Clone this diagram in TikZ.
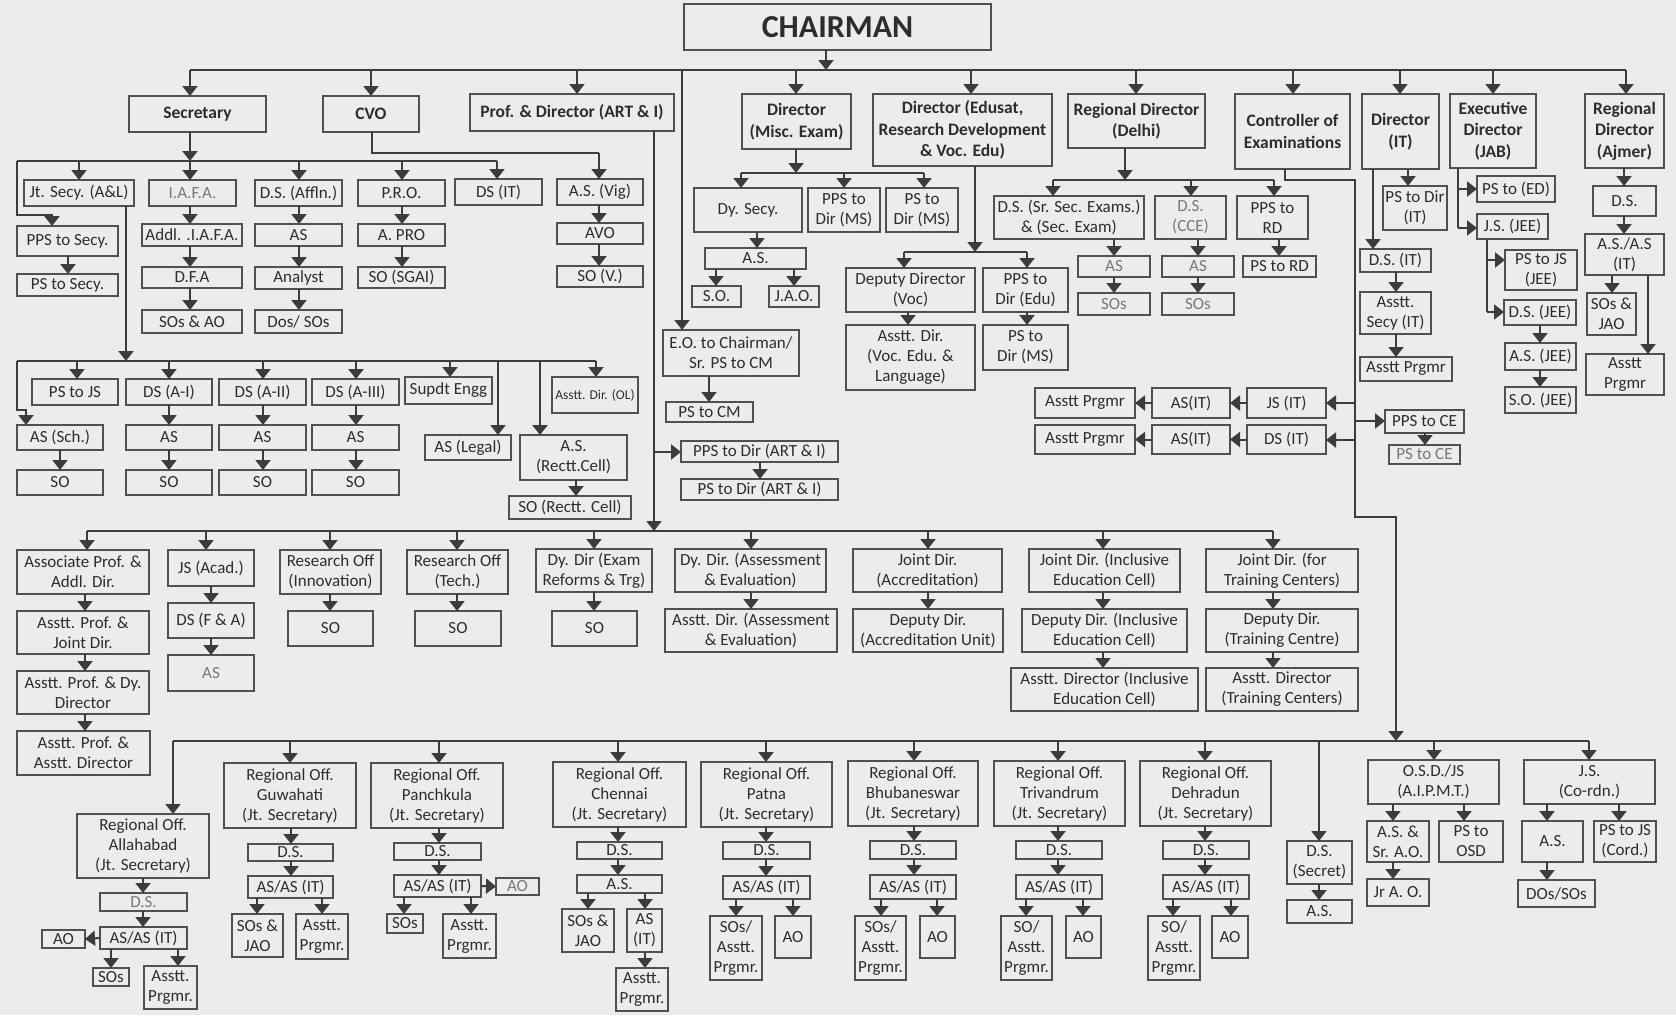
\documentclass[tikz,border=0pt]{standalone}
\usepackage{fontspec}
\setmainfont{Carlito}
\usetikzlibrary{arrows.meta}
\definecolor{bgc}{RGB}{236,236,236}
\definecolor{lnc}{RGB}{60,60,60}
\definecolor{bdc}{RGB}{80,80,80}
\definecolor{txc}{RGB}{45,45,45}
\definecolor{fnt}{RGB}{120,120,120}
\newcommand\fnorm{\fontsize{17}{20}\selectfont}
\newcommand\fbold{\fontsize{17.5}{21.5}\selectfont\bfseries}
\newcommand\fsmall{\fontsize{13.5}{16}\selectfont}
\newcommand\obox[7][]{\node[box,#1,minimum width={(#5)-(#3)},minimum height={(#6)-(#4)}] (#2) at ({((#3)+(#5))/2},{((#4)+(#6))/2}) {#7};}
\newcommand\dar[3]{\draw[arr] (#1,#2) -- (#3.north -| #1,0);}
\newcommand\vv[3]{\draw[arr] (#1.south -| #3,0) -- (#2.north -| #3,0);}
\tikzset{
  box/.style={draw=bdc,line width=1.3pt,text=txc,font=\fnorm,inner sep=1pt,align=center,outer sep=0pt},
  bb/.style={font=\fbold},
  faint/.style={text=fnt},
  ln/.style={draw=lnc,line width=2pt},
  arr/.style={ln,-{Triangle[width=15pt,length=10pt]}}
}
\begin{document}
\begin{tikzpicture}[x=1pt,y=-1pt]
\fill[bgc] (0,0) rectangle (1676,1015);
\useasboundingbox (0,0) rectangle (1676,1015);

% ---------- top level ----------
\obox[font=\fontsize{32}{36}\selectfont\bfseries]{chair}{684}{4}{991}{50}{CHAIRMAN}
\draw[arr] (chair.south -| 826,0) -- (826,70);
\draw[ln] (190,70) -- (1626,70);

\obox[bb]{sec}{129}{96}{266}{132}{Secretary}
\obox[bb]{cvo}{323}{96}{419}{132}{CVO}
\obox[bb]{prof}{470}{94}{674}{131}{Prof. \& Director (ART \& I)}
\obox[bb]{dmisc}{742}{94}{851}{149}{Director\\(Misc. Exam)}
\obox[bb]{dedu}{873}{94}{1052}{166}{Director (Edusat,\\Research Development\\\& Voc. Edu)}
\obox[bb]{rdd}{1068}{94}{1205}{148}{Regional Director\\(Delhi)}
\obox[bb]{coe}{1235}{94}{1350}{169}{Controller of\\Examinations}
\obox[bb]{dit}{1362}{94}{1439}{169}{Director\\(IT)}
\obox[bb]{ed}{1450}{94}{1536}{168}{Executive\\Director\\(JAB)}
\obox[bb]{raj}{1585}{94}{1664}{168}{Regional\\Director\\(Ajmer)}
\dar{190}{70}{sec} \dar{371}{70}{cvo} \dar{577}{70}{prof} \dar{796}{70}{dmisc}
\dar{971}{70}{dedu} \dar{1136}{70}{rdd} \dar{1293}{70}{coe} \dar{1400}{70}{dit}
\dar{1493}{70}{ed} \dar{1626}{70}{raj}

% ---------- Secretary / CVO ----------
\draw[arr] (sec.south -| 190,0) -- (190,161);
\draw[ln] (17,161) -- (497,161);
\draw[ln] (cvo.south -| 372,0) -- (372,153) -- (599,153);
\obox{jt}{24}{180}{134}{206}{Jt. Secy. (A\&L)}
\obox[faint]{iafa}{149}{180}{236}{206}{I.A.F.A.}
\obox{dsaff}{255}{180}{342}{206}{D.S. (Affln.)}
\obox{pro}{358}{180}{445}{206}{P.R.O.}
\obox{dsit}{455}{179}{542}{205}{DS (IT)}
\obox{asvig}{557}{179}{643}{205}{A.S. (Vig)}
\dar{79}{161}{jt} \dar{190}{161}{iafa} \dar{299}{161}{dsaff} \dar{402}{161}{pro}
\dar{497}{161}{dsit} \dar{599}{153}{asvig}
\obox{ppss}{17}{226}{118}{256}{PPS to Secy.}
\obox{pss}{17}{274}{118}{296}{PS to Secy.}
\draw[arr] (17,161) -- (17,215) -- (52,215) -- (ppss.north -| 52,0);
\vv{ppss}{pss}{68}
\obox{addl}{142}{224}{242}{246}{Addl. .I.A.F.A.}
\obox{as1}{255}{224}{342}{246}{AS}
\obox{apro}{358}{224}{445}{246}{A. PRO}
\obox{avo}{557}{223}{643}{244}{AVO}
\obox{dfa}{142}{267}{242}{288}{D.F.A}
\obox{analyst}{255}{267}{342}{289}{Analyst}
\obox{sosgai}{358}{267}{445}{288}{SO (SGAI)}
\obox{sov}{557}{266}{643}{287}{SO (V.)}
\obox{sosao}{142}{310}{242}{333}{SOs \& AO}
\obox{dos}{255}{310}{342}{333}{Dos/ SOs}
\vv{iafa}{addl}{190} \vv{addl}{dfa}{190} \vv{dfa}{sosao}{190}
\vv{dsaff}{as1}{299} \vv{as1}{analyst}{299} \vv{analyst}{dos}{299}
\vv{pro}{apro}{402} \vv{apro}{sosgai}{402}
\vv{asvig}{avo}{599} \vv{avo}{sov}{599}

% ---------- Jt. Secy (A&L) ----------
\draw[arr] (jt.south -| 126,0) -- (126,361);
\draw[ln] (17,361) -- (596,361);
\obox{pstojs}{32}{379}{118}{405}{PS to JS}
\obox{dsa1}{126}{379}{212}{405}{DS (A-I)}
\obox{dsa2}{219}{379}{306}{405}{DS (A-II)}
\obox{dsa3}{312}{379}{399}{405}{DS (A-III)}
\obox{supdt}{405}{377}{492}{404}{Supdt Engg}
\obox[font=\fsmall]{ol}{552}{377}{638}{413}{Asstt. Dir. (OL)}
\obox{assch}{17}{425}{103}{450}{AS (Sch.)}
\obox{asa1}{126}{425}{212}{450}{AS}
\obox{asa2}{219}{425}{306}{450}{AS}
\obox{asa3}{312}{425}{399}{450}{AS}
\obox{aslegal}{425}{435}{511}{460}{AS (Legal)}
\obox{rectt}{520}{435}{627}{480}{A.S.\\(Rectt.Cell)}
\obox{soa0}{17}{470}{103}{495}{SO}
\obox{soa1}{126}{470}{212}{495}{SO}
\obox{soa2}{219}{470}{306}{495}{SO}
\obox{soa3}{312}{470}{399}{495}{SO}
\obox{sorectt}{509}{496}{631}{519}{SO (Rectt. Cell)}
\dar{77}{361}{pstojs} \dar{169}{361}{dsa1} \dar{263}{361}{dsa2} \dar{356}{361}{dsa3}
\dar{450}{361}{supdt} \dar{596}{361}{ol} \dar{498}{361}{aslegal} \dar{540}{361}{rectt}
\draw[arr] (17,361) -- (17,410) -- (26,410) -- (assch.north -| 26,0);
\vv{assch}{soa0}{60} \vv{dsa1}{asa1}{169} \vv{asa1}{soa1}{169}
\vv{dsa2}{asa2}{263} \vv{asa2}{soa2}{263} \vv{dsa3}{asa3}{356} \vv{asa3}{soa3}{356}
\vv{rectt}{sorectt}{576}

% ---------- Prof & Director ----------
\draw[arr] (prof.south -| 654,0) -- (654,531);
\obox{ppsart}{681}{441}{838}{462}{PPS to Dir (ART \& I)}
\obox{psart}{681}{479}{838}{500}{PS to Dir (ART \& I)}
\draw[arr] (654,452) -- (ppsart.west |- 0,452);
\vv{ppsart}{psart}{760}
\obox{eo}{663}{330}{799}{376}{E.O. to Chairman/\\Sr. PS to CM}
\obox{pscm}{666}{402}{753}{422}{PS to CM}
\dar{682}{70}{eo}
\vv{eo}{pscm}{709}

\draw[ln] (87,531) -- (1273,531);
\obox{assoc}{17}{550}{149}{594}{Associate Prof. \&\\Addl. Dir.}
\obox{jsacad}{168}{550}{254}{586}{JS (Acad.)}
\obox{resinno}{280}{550}{381}{594}{Research Off\\(Innovation)}
\obox{restech}{407}{550}{508}{594}{Research Off\\(Tech.)}
\obox{dydir}{536}{549}{652}{592}{Dy. Dir (Exam\\Reforms \& Trg)}
\obox{dydirae}{675}{549}{826}{592}{Dy. Dir. (Assessment\\\& Evaluation)}
\obox{jdacc}{853}{549}{1002}{592}{Joint Dir.\\(Accreditation)}
\obox{jdinc}{1029}{549}{1180}{592}{Joint Dir. (Inclusive\\Education Cell)}
\obox{jdtr}{1206}{549}{1358}{592}{Joint Dir. (for\\Training Centers)}
\dar{87}{531}{assoc} \dar{206}{531}{jsacad} \dar{330}{531}{resinno} \dar{457}{531}{restech}
\dar{594}{531}{dydir} \dar{751}{531}{dydirae} \dar{928}{531}{jdacc} \dar{1103}{531}{jdinc}
\dar{1273}{531}{jdtr}
\obox{ap1}{17}{611}{149}{654}{Asstt. Prof. \&\\Joint Dir.}
\obox{dsfa}{168}{603}{254}{638}{DS (F \& A)}
\obox{soinno}{288}{611}{373}{646}{SO}
\obox{sotech}{415}{611}{501}{646}{SO}
\obox{sody}{552}{611}{637}{646}{SO}
\obox{adae}{665}{609}{837}{652}{Asstt. Dir. (Assessment\\\& Evaluation)}
\obox{ddacc}{853}{609}{1003}{652}{Deputy Dir.\\(Accreditation Unit)}
\obox{ddinc}{1022}{609}{1187}{652}{Deputy Dir. (Inclusive\\Education Cell)}
\obox{ddtr}{1206}{609}{1358}{652}{Deputy Dir.\\(Training Centre)}
\obox{ap2}{17}{671}{149}{714}{Asstt. Prof. \& Dy.\\Director}
\obox[faint]{asfa}{168}{655}{254}{691}{AS}
\obox{adinc}{1011}{668}{1198}{711}{Asstt. Director (Inclusive\\Education Cell)}
\obox{adtr}{1206}{668}{1358}{711}{Asstt. Director\\(Training Centers)}
\obox{ap3}{17}{731}{150}{775}{Asstt. Prof. \&\\Asstt. Director}
\vv{assoc}{ap1}{85} \vv{ap1}{ap2}{85} \vv{ap2}{ap3}{85}
\vv{jsacad}{dsfa}{211} \vv{dsfa}{asfa}{211}
\vv{resinno}{soinno}{330} \vv{restech}{sotech}{457} \vv{dydir}{sody}{594}
\vv{dydirae}{adae}{751} \vv{jdacc}{ddacc}{928}
\vv{jdinc}{ddinc}{1103} \vv{ddinc}{adinc}{1103}
\vv{jdtr}{ddtr}{1273} \vv{ddtr}{adtr}{1273}

% ---------- Director (Misc. Exam) ----------
\draw[arr] (dmisc.south -| 796,0) -- (796,173);
\draw[ln] (741,173) -- (924,173);
\obox{dysecy}{694}{188}{802}{232}{Dy. Secy.}
\obox{ppsms}{808}{188}{880}{232}{PPS to\\Dir (MS)}
\obox{psms}{886}{188}{958}{232}{PS to\\Dir (MS)}
\dar{741}{173}{dysecy} \dar{844}{173}{ppsms} \dar{924}{173}{psms}
\obox{asm}{705}{248}{806}{269}{A.S.}
\obox{som}{692}{286}{741}{307}{S.O.}
\obox{jao}{769}{286}{819}{307}{J.A.O.}
\vv{dysecy}{asm}{757} \vv{asm}{som}{716} \vv{asm}{jao}{794}

% ---------- Director (Edusat) ----------
\draw[arr] (dedu.south -| 975,0) -- (975,252);
\draw[ln] (904,252) -- (1027,252);
\obox{ddvoc}{846}{268}{975}{312}{Deputy Director\\(Voc)}
\obox{ppsedu}{983}{268}{1068}{312}{PPS to\\Dir (Edu)}
\dar{904}{252}{ddvoc} \dar{1027}{252}{ppsedu}
\obox{advoc}{846}{325}{975}{390}{Asstt. Dir.\\(Voc. Edu. \&\\Language)}
\obox{psms2}{983}{325}{1068}{370}{PS to\\Dir (MS)}
\vv{ddvoc}{advoc}{908} \vv{ppsedu}{psms2}{1027}

% ---------- Regional Director (Delhi) ----------
\draw[arr] (rdd.south -| 1125,0) -- (1125,180);
\draw[ln] (1053,180) -- (1274,180);
\obox{dssr}{994}{196}{1144}{239}{D.S. (Sr. Sec. Exams.)\\\& (Sec. Exam)}
\obox[faint]{dscce}{1155}{196}{1226}{239}{D.S.\\(CCE)}
\obox{ppsrd}{1237}{196}{1308}{239}{PPS to\\RD}
\dar{1053}{180}{dssr} \dar{1191}{180}{dscce} \dar{1274}{180}{ppsrd}
\obox[faint]{asd1}{1078}{256}{1150}{277}{AS}
\obox[faint]{asd2}{1162}{256}{1234}{277}{AS}
\obox{psrd}{1243}{256}{1316}{277}{PS to RD}
\obox[faint]{sosd1}{1078}{293}{1150}{315}{SOs}
\obox[faint]{sosd2}{1162}{293}{1234}{315}{SOs}
\vv{dssr}{asd1}{1114} \vv{asd1}{sosd1}{1114}
\vv{dscce}{asd2}{1198} \vv{asd2}{sosd2}{1198}
\vv{ppsrd}{psrd}{1279}

% ---------- Controller of Examinations ----------
\draw[arr] (coe.south -| 1285,0) -- (1285,180) -- (1355,180) -- (1355,517) -- (1396,517) -- (1396,741);
\obox{jsit}{1247}{388}{1326}{418}{JS (IT)}
\obox{asit1}{1152}{388}{1230}{418}{AS(IT)}
\obox{apr1}{1035}{388}{1135}{418}{Asstt Prgmr}
\obox{dsit2}{1247}{425}{1326}{454}{DS (IT)}
\obox{asit2}{1152}{425}{1230}{454}{AS(IT)}
\obox{apr2}{1035}{425}{1135}{454}{Asstt Prgmr}
\draw[arr] (1355,403) -- (jsit.east |- 0,403);
\draw[arr] (1355,440) -- (dsit2.east |- 0,440);
\draw[arr] (jsit.west) -- (asit1.east);
\draw[arr] (asit1.west) -- (apr1.east);
\draw[arr] (dsit2.west) -- (asit2.east);
\draw[arr] (asit2.west) -- (apr2.east);
\obox{ppsce}{1385}{410}{1464}{433}{PPS to CE}
\obox[faint]{psce}{1389}{445}{1460}{464}{PS to CE}
\draw[arr] (1355,421) -- (ppsce.west |- 0,421);
\vv{ppsce}{psce}{1425}

% ---------- Director (IT) ----------
\obox{psdit}{1383}{186}{1447}{230}{PS to Dir\\(IT)}
\obox{dsit3}{1360}{249}{1431}{272}{D.S. (IT)}
\obox{assecy}{1360}{292}{1431}{334}{Asstt.\\Secy (IT)}
\obox{aprit}{1360}{357}{1452}{381}{Asstt Prgmr}
\vv{dit}{dsit3}{1373} \vv{dit}{psdit}{1408}
\vv{dsit3}{assecy}{1396} \vv{assecy}{aprit}{1396}

% ---------- Executive Director (JAB) ----------
\obox{psed}{1477}{176}{1555}{202}{PS to (ED)}
\obox{jsjee}{1477}{214}{1548}{239}{J.S. (JEE)}
\draw[ln] (ed.south -| 1458,0) -- (1458,228);
\draw[arr] (1458,189) -- (psed.west |- 0,189);
\draw[arr] (1458,228) -- (jsjee.west |- 0,228);
\obox{pstojsjee}{1505}{250}{1577}{290}{PS to JS\\(JEE)}
\obox{dsjee}{1504}{300}{1576}{325}{D.S. (JEE)}
\obox{asjee}{1505}{343}{1576}{370}{A.S. (JEE)}
\obox{sojee}{1505}{387}{1576}{413}{S.O. (JEE)}
\draw[ln] (jsjee.south -| 1487,0) -- (1487,312);
\draw[arr] (1487,260) -- (pstojsjee.west |- 0,260);
\draw[arr] (1487,312) -- (dsjee.west |- 0,312);
\vv{dsjee}{asjee}{1540} \vv{asjee}{sojee}{1540}

% ---------- Regional Director (Ajmer) ----------
\obox{dsaj}{1593}{186}{1656}{216}{D.S.}
\obox{asaj}{1585}{234}{1664}{275}{A.S./A.S\\(IT)}
\obox{sosjaoaj}{1587}{293}{1636}{335}{SOs \&\\JAO}
\obox{apraj}{1586}{354}{1664}{395}{Asstt\\Prgmr}
\vv{raj}{dsaj}{1624} \vv{dsaj}{asaj}{1624}
\vv{asaj}{sosjaoaj}{1612} \vv{asaj}{apraj}{1648}

% ---------- bottom: regional offices ----------
\draw[ln] (173,741) -- (1589,741);
\obox{allah}{77}{814}{209}{878}{Regional Off.\\Allahabad\\(Jt. Secretary)}
\obox{guw}{224}{763}{356}{828}{Regional Off.\\Guwahati\\(Jt. Secretary)}
\obox{pan}{371}{763}{503}{828}{Regional Off.\\Panchkula\\(Jt. Secretary)}
\obox{che}{553}{762}{686}{827}{Regional Off.\\Chennai\\(Jt. Secretary)}
\obox{pat}{701}{762}{832}{827}{Regional Off.\\Patna\\(Jt. Secretary)}
\obox{bhu}{848}{761}{978}{826}{Regional Off.\\Bhubaneswar\\(Jt. Secretary)}
\obox{tri}{994}{761}{1125}{826}{Regional Off.\\Trivandrum\\(Jt. Secretary)}
\obox{deh}{1140}{761}{1271}{826}{Regional Off.\\Dehradun\\(Jt. Secretary)}
\obox{dssec}{1287}{841}{1352}{884}{D.S.\\(Secret)}
\obox{osd}{1368}{760}{1499}{804}{O.S.D./JS\\(A.I.P.M.T.)}
\obox{jscord}{1524}{760}{1655}{804}{J.S.\\(Co-rdn.)}
\dar{173}{741}{allah} \dar{290}{741}{guw} \dar{439}{741}{pan} \dar{618}{741}{che}
\dar{766}{741}{pat} \dar{914}{741}{bhu} \dar{1058}{741}{tri} \dar{1205}{741}{deh}
\dar{1319}{741}{dssec} \dar{1434}{741}{osd} \dar{1589}{741}{jscord}

\obox{assec}{1287}{900}{1352}{923}{A.S.}
\vv{dssec}{assec}{1319}
\obox{asao}{1367}{821}{1429}{862}{A.S. \&\\Sr. A.O.}
\obox{psosd}{1439}{821}{1503}{862}{PS to\\OSD}
\obox{jrao}{1367}{879}{1429}{906}{Jr A. O.}
\obox{ascord}{1522}{821}{1583}{862}{A.S.}
\obox{pstojscord}{1594}{821}{1656}{862}{PS to JS\\(Cord.)}
\obox{dossos}{1518}{880}{1595}{907}{DOs/SOs}
\vv{osd}{asao}{1393} \vv{osd}{psosd}{1464} \vv{asao}{jrao}{1393}
\vv{jscord}{ascord}{1547} \vv{jscord}{pstojscord}{1619} \vv{ascord}{dossos}{1547}

% Allahabad
\obox[faint]{dsal}{100}{893}{187}{911}{D.S.}
\obox{asal}{100}{927}{187}{949}{AS/AS (IT)}
\obox{aoal}{42}{930}{85}{948}{AO}
\obox{sosal}{93}{968}{129}{986}{SOs}
\obox{apal}{144}{966}{197}{1009}{Asstt.\\Prgmr.}
\vv{allah}{dsal}{143} \vv{dsal}{asal}{143}
\draw[arr] (asal.west) -- (aoal.east);
\vv{asal}{sosal}{111} \vv{asal}{apal}{178}
% Guwahati
\obox{dsgu}{248}{844}{333}{861}{D.S.}
\obox{asgu}{248}{876}{333}{898}{AS/AS (IT)}
\obox{sosgu}{232}{914}{283}{957}{SOs \&\\JAO}
\obox{apgu}{296}{914}{348}{959}{Asstt.\\Prgmr.}
\vv{guw}{dsgu}{291} \vv{dsgu}{asgu}{291} \vv{asgu}{sosgu}{257} \vv{asgu}{apgu}{322}
% Panchkula
\obox{dspa}{394}{843}{481}{860}{D.S.}
\obox{aspa}{394}{875}{481}{897}{AS/AS (IT)}
\obox[faint]{aopa}{496}{878}{539}{895}{AO}
\obox{sospa}{387}{914}{423}{933}{SOs}
\obox{appa}{443}{914}{496}{958}{Asstt.\\Prgmr.}
\vv{pan}{dspa}{439} \vv{dspa}{aspa}{439}
\draw[arr] (aspa.east) -- (aopa.west);
\vv{aspa}{sospa}{404} \vv{aspa}{appa}{471}
% Chennai
\obox{dsch}{577}{842}{662}{859}{D.S.}
\obox{asch}{577}{875}{662}{893}{A.S.}
\obox{sosch}{562}{909}{614}{952}{SOs \&\\JAO}
\obox{asitch}{627}{909}{662}{952}{AS\\(IT)}
\obox{apch}{616}{968}{668}{1011}{Asstt.\\Prgmr.}
\vv{che}{dsch}{618} \vv{dsch}{asch}{618} \vv{asch}{sosch}{588} \vv{asch}{asitch}{645}
\vv{asitch}{apch}{645}
% Patna
\obox{dspt}{723}{842}{810}{859}{D.S.}
\obox{aspt}{723}{876}{810}{899}{AS/AS (IT)}
\obox{sospt}{710}{916}{762}{980}{SOs/\\Asstt.\\Prgmr.}
\obox{aopt}{775}{916}{811}{958}{AO}
\vv{pat}{dspt}{766} \vv{dspt}{aspt}{766} \vv{aspt}{sospt}{736} \vv{aspt}{aopt}{793}
% Bhubaneswar
\obox{dsbh}{870}{841}{956}{859}{D.S.}
\obox{asbh}{870}{875}{956}{899}{AS/AS (IT)}
\obox{sosbh}{855}{916}{906}{980}{SOs/\\Asstt.\\Prgmr.}
\obox{aobh}{920}{916}{955}{958}{AO}
\vv{bhu}{dsbh}{914} \vv{dsbh}{asbh}{914} \vv{asbh}{sosbh}{881} \vv{asbh}{aobh}{937}
% Trivandrum
\obox{dstr}{1016}{841}{1102}{859}{D.S.}
\obox{astr}{1016}{875}{1102}{899}{AS/AS (IT)}
\obox{sotr}{1001}{916}{1052}{980}{SO/\\Asstt.\\Prgmr.}
\obox{aotr}{1066}{916}{1101}{958}{AO}
\vv{tri}{dstr}{1058} \vv{dstr}{astr}{1058} \vv{astr}{sotr}{1026} \vv{astr}{aotr}{1083}
% Dehradun
\obox{dsde}{1163}{841}{1249}{859}{D.S.}
\obox{asde}{1163}{875}{1249}{899}{AS/AS (IT)}
\obox{sode}{1148}{916}{1200}{980}{SO/\\Asstt.\\Prgmr.}
\obox{aode}{1212}{916}{1248}{958}{AO}
\vv{deh}{dsde}{1205} \vv{dsde}{asde}{1205} \vv{asde}{sode}{1173} \vv{asde}{aode}{1231}
\end{tikzpicture}
\end{document}
